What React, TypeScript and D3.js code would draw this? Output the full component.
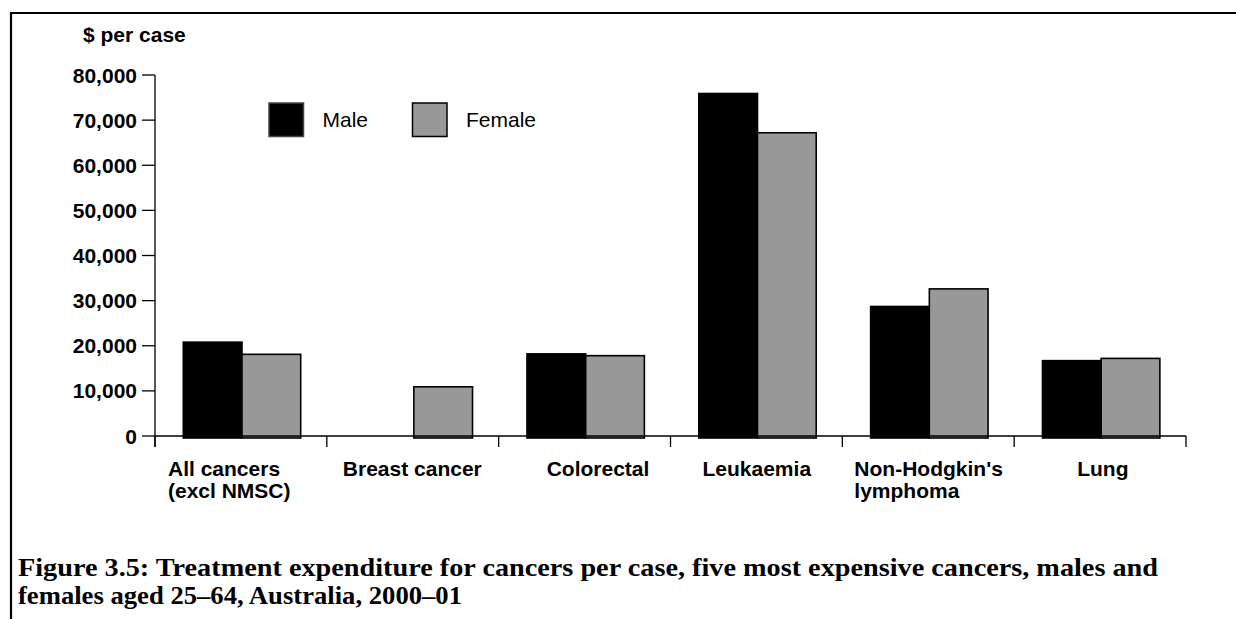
import React from "react";
import * as d3 from "d3";

const categories = [
  ["All cancers", "(excl NMSC)"],
  ["Breast cancer"],
  ["Colorectal"],
  ["Leukaemia"],
  ["Non-Hodgkin's", "lymphoma"],
  ["Lung"],
];
const series = ["Male", "Female"];
const maleValues = [20800, 0, 18200, 75900, 28700, 16700];
const femaleValues = [18100, 10900, 17800, 67200, 32600, 17200];
const yTicks = [0, 10000, 20000, 30000, 40000, 50000, 60000, 70000, 80000];
const yAxisTitle = "$ per case";
const captionLines = [
  "Figure 3.5: Treatment expenditure for cancers per case, five most expensive cancers, males and",
  "females aged 25\u201364, Australia, 2000\u201301",
];

// layout constants
const W = 1236;
const H = 619;
const X0 = 155;
const X1 = 1186;
const Y0 = 436;
const YTOP = 75;
const labelDx = [13, 16, 48, 32, 12, 63];
const captionWidths = [1140, 444];
const SANS = "'Liberation Sans', Arial, Helvetica, sans-serif";
const SERIF = "'Liberation Serif', 'DejaVu Serif', serif";
const fills: Record<string, string> = { Male: "#000000", Female: "#999999" };

export default function App() {
  const keys = categories.map((c) => c.join(" "));
  const x = d3.scaleBand<string>().domain(keys).range([X0, X1]).padding(0);
  const bw = x.bandwidth();
  const x1 = d3.scaleBand<string>().domain(series).range([28.3, 28.3 + 117.4]);
  const y = d3.scaleLinear().domain([0, 80000]).range([Y0, YTOP]);
  const fmt = d3.format(",");
  const data = keys.map((k, i) => ({ key: k, Male: maleValues[i], Female: femaleValues[i] }));
  const boundaries = d3.range(keys.length + 1).map((i) => X0 + i * bw);

  return (
    <svg
      width={W}
      height={H}
      style={{ position: "fixed", left: 0, top: 0, background: "#fff" }}
    >
      <rect x={0} y={0} width={W} height={H} fill="#fff" />
      {/* frame */}
      <line x1={10} y1={13} x2={W} y2={13} stroke="#000" strokeWidth={2.2} />
      <line x1={11} y1={12} x2={11} y2={H} stroke="#000" strokeWidth={2.2} />

      {/* y axis title */}
      <text x={83} y={42} fontFamily={SANS} fontWeight="bold" fontSize={21} fill="#000">
        {yAxisTitle}
      </text>

      {/* y axis */}
      <line x1={X0} y1={y(80000)} x2={X0} y2={Y0 + 11} stroke="#000" strokeWidth={1.3} />
      {yTicks.map((t) => (
        <g key={t}>
          <line x1={X0 - 13} y1={y(t)} x2={X0} y2={y(t)} stroke="#000" strokeWidth={1.3} />
          <text
            x={137}
            y={y(t) + 7.5}
            textAnchor="end"
            fontFamily={SANS}
            fontWeight="bold"
            fontSize={21}
            fill="#000"
          >
            {fmt(t)}
          </text>
        </g>
      ))}

      {/* bars */}
      {data.map((d) => (
        <g key={d.key} transform={`translate(${x(d.key)},0)`}>
          {series.map((s) => {
            const v = (d as any)[s] as number;
            if (!v) return null;
            return (
              <rect
                key={s}
                x={x1(s)}
                y={y(v)}
                width={x1.bandwidth()}
                height={Y0 + 2 - y(v)}
                fill={fills[s]}
                stroke="#000"
                strokeWidth={1.6}
              />
            );
          })}
        </g>
      ))}

      {/* x axis */}
      <line x1={X0} y1={Y0} x2={X1} y2={Y0} stroke="#000" strokeWidth={1.3} />
      {boundaries.map((b, i) => (
        <line key={i} x1={b} y1={Y0} x2={b} y2={Y0 + 11} stroke="#000" strokeWidth={1.3} />
      ))}
      {categories.map((lines, i) => (
        <text
          key={i}
          fontFamily={SANS}
          fontWeight="bold"
          fontSize={21}
          fill="#000"
        >
          {lines.map((l, j) => (
            <tspan key={j} x={(x(keys[i]) as number) + labelDx[i]} y={476 + j * 21.5}>
              {l}
            </tspan>
          ))}
        </text>
      ))}

      {/* legend */}
      {series.map((s, i) => (
        <g key={s} transform={`translate(${269 + i * 143.5},103)`}>
          <rect
            x={0}
            y={0}
            width={34.5}
            height={33.5}
            fill={fills[s]}
            stroke={s === "Male" ? "#444" : "#000"}
            strokeWidth={1.5}
          />
          <text x={53.5} y={23.5} fontFamily={SANS} fontSize={21} fill="#000">
            {s}
          </text>
        </g>
      ))}

      {/* caption */}
      {captionLines.map((l, i) => (
        <text
          key={i}
          x={18}
          y={576 + i * 28}
          fontFamily={SERIF}
          fontWeight="bold"
          fontSize={25}
          textLength={captionWidths[i]}
          lengthAdjust="spacingAndGlyphs"
          fill="#000"
        >
          {l}
        </text>
      ))}
    </svg>
  );
}
